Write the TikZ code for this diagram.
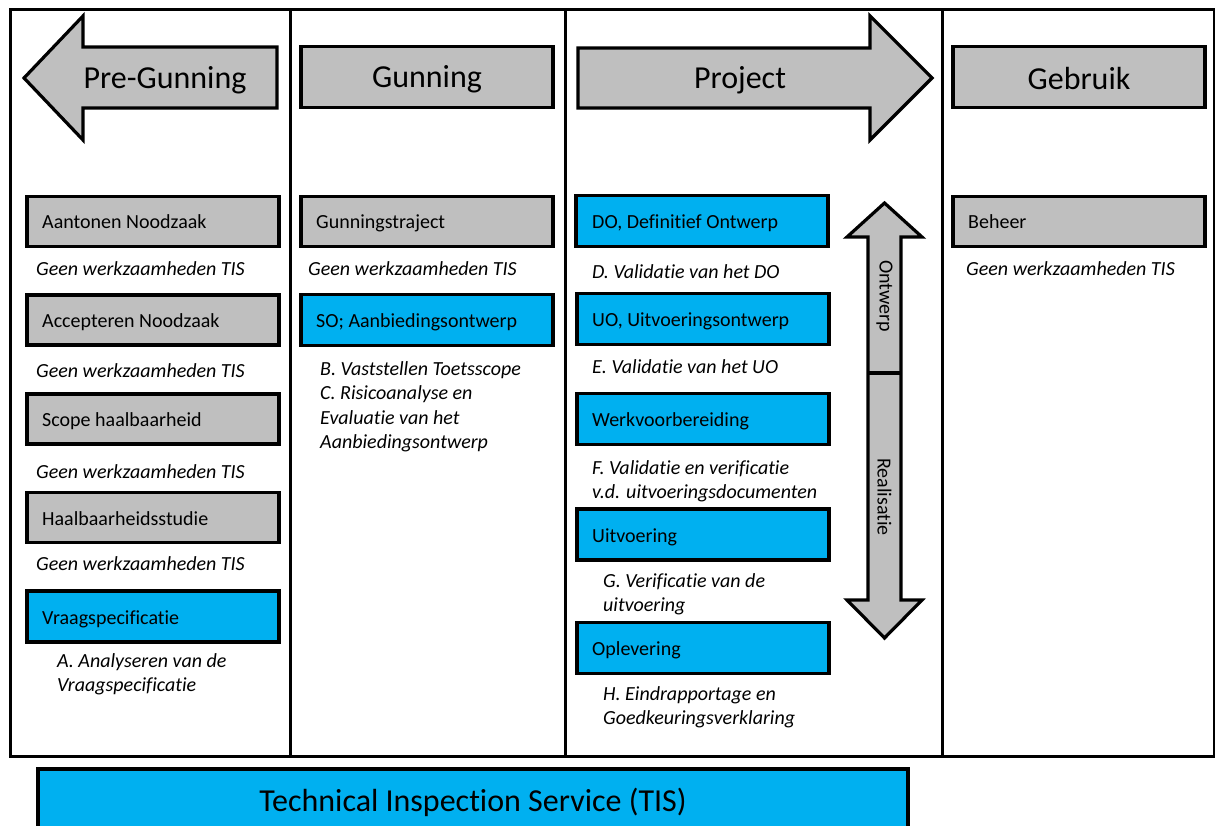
\documentclass[tikz,border=0pt]{standalone}
\usepackage{fontspec}
\setmainfont{Carlito}[Ligatures={NoCommon,NoContextual,NoRare,NoRequired}]
\definecolor{boxgrey}{RGB}{191,191,191}
\definecolor{tisblue}{RGB}{0,176,240}
\tikzset{
  frame/.style={line width=3pt, draw=black},
  greybox/.style={draw=black, line width=3.2pt, fill=boxgrey, minimum width=252pt, minimum height=50pt, inner sep=0pt},
  bluebox/.style={draw=black, line width=3.2pt, fill=tisblue, minimum width=252pt, minimum height=51pt, inner sep=0pt},
  boxlabel/.style={anchor=west, font=\fontsize{20pt}{24pt}\selectfont, text height=15pt, text depth=5pt, inner sep=0pt, yshift=-2.5pt},
  note/.style={anchor=west, font=\fontsize{20pt}{24pt}\selectfont\itshape, text height=15pt, text depth=5pt, inner sep=0pt, yshift=-2.5pt},
  header/.style={font=\fontsize{32pt}{38pt}\selectfont, inner sep=0pt, yshift=-2pt},
  bigarrow/.style={draw=black, line width=3.2pt, fill=boxgrey, line join=miter},
  vlabel/.style={font=\fontsize{20pt}{24pt}\selectfont, rotate=-90, inner sep=0pt},
}
\begin{document}
\begin{tikzpicture}[x=1pt, y=-1pt]
\clip (0,0) rectangle (1215,826);
\fill[white] (0,0) rectangle (1215,826);

% outer frame and column dividers
\draw[frame] (10,10) rectangle (1214,756);
\draw[frame] (290,10) -- (290,756);
\draw[frame] (565,10) -- (565,756);
\draw[frame] (942,10) -- (942,756);

% headers
\draw[bigarrow] (24,78) -- (83,16) -- (83,47) -- (277,47) -- (277,108) -- (83,108) -- (83,140) -- cycle;
\node[header] (hpre) at (165,78) {Pre-Gunning};
\node[greybox, minimum width=252pt, minimum height=61pt] (hgun) at (427,77) {};
\node[header] at (hgun.center) {Gunning};
\draw[bigarrow] (578,48) -- (870,48) -- (870,16) -- (932,78) -- (870,140) -- (870,108) -- (578,108) -- cycle;
\node[header] (hproj) at (740,78) {Project};
\node[greybox, minimum width=252pt, minimum height=61pt] (hgeb) at (1079,77) {};
\node[header] at (hgeb.center) {Gebruik};

% column 1
\node[greybox] (a1) at (153,221.5) {};
\node[boxlabel] at (42,221.5) {Aantonen Noodzaak};
\node[note] (n1) at (36,268) {Geen werkzaamheden TIS};
\node[greybox] (a2) at (153,320) {};
\node[boxlabel] at (42,320) {Accepteren Noodzaak};
\node[note] (n2) at (36,370) {Geen werkzaamheden TIS};
\node[greybox] (a3) at (153,419) {};
\node[boxlabel] at (42,419) {Scope haalbaarheid};
\node[note] (n3) at (36,471) {Geen werkzaamheden TIS};
\node[greybox] (a4) at (153,517.5) {};
\node[boxlabel] at (42,517.5) {Haalbaarheidsstudie};
\node[note] (n4) at (36,563) {Geen werkzaamheden TIS};
\node[bluebox] (a5) at (153,616.5) {};
\node[boxlabel] at (42,616.5) {Vraagspecificatie};
\node[note] (n5a) at (57,660) {A. Analyseren van de};
\node[note] (n5b) at (57,684) {Vraagspecificatie};

% column 2
\node[greybox] (b1) at (427,221.5) {};
\node[boxlabel] at (316,221.5) {Gunningstraject};
\node[note] (m1) at (308,268) {Geen werkzaamheden TIS};
\node[bluebox] (b2) at (427,320) {};
\node[boxlabel] at (316,320) {SO; Aanbiedingsontwerp};
\node[note] (m2a) at (320,368) {B. Vaststellen Toetsscope};
\node[note] (m2b) at (320,392) {C. Risicoanalyse en};
\node[note] (m2c) at (320,416.5) {Evaluatie van het};
\node[note] (m2d) at (320,441) {Aanbiedingsontwerp};

% column 3
\node[bluebox] (c1) at (702,221) {};
\node[boxlabel] at (592,221) {DO, Definitief Ontwerp};
\node[note] (p1) at (592,271) {D. Validatie van het DO};
\node[bluebox] (c2) at (703,319) {};
\node[boxlabel] at (592,319) {UO, Uitvoeringsontwerp};
\node[note] (p2) at (592,366) {E. Validatie van het UO};
\node[bluebox] (c3) at (703,419) {};
\node[boxlabel] at (592,419) {Werkvoorbereiding};
\node[note] (p3a) at (592,467) {F. Validatie en verificatie};
\node[note] (p3b) at (592,491) {v.d. uitvoeringsdocumenten};
\node[bluebox] (c4) at (703,534.5) {};
\node[boxlabel] at (592,534.5) {Uitvoering};
\node[note] (p4a) at (603,580) {G. Verificatie van de};
\node[note] (p4b) at (603,604) {uitvoering};
\node[bluebox] (c5) at (703,648) {};
\node[boxlabel] at (592,648) {Oplevering};
\node[note] (p5a) at (603,693) {H. Eindrapportage en};
\node[note] (p5b) at (603,717) {Goedkeuringsverklaring};

% double arrow
\draw[bigarrow] (884.5,203) -- (922,237) -- (901,237) -- (901,600) -- (922,600) -- (884.5,638) -- (847,600) -- (868,600) -- (868,237) -- (847,237) -- cycle;
\draw[line width=3.2pt] (868,373) -- (901,373);
\node[vlabel] (ontw) at (884.5,296) {Ontwerp};
\node[vlabel] (real) at (884.5,497) {Realisatie};

% column 4
\node[greybox] (d1) at (1079,221.5) {};
\node[boxlabel] at (968,221.5) {Beheer};
\node[note] (q1) at (966,268) {Geen werkzaamheden TIS};

% TIS bar
\node[draw=black, line width=3.2pt, fill=tisblue, minimum width=870pt, minimum height=70pt, inner sep=0pt] (tis) at (473,804) {};
\node[header] at (473,800) {Technical Inspection Service (TIS)};
\end{tikzpicture}
\end{document}
